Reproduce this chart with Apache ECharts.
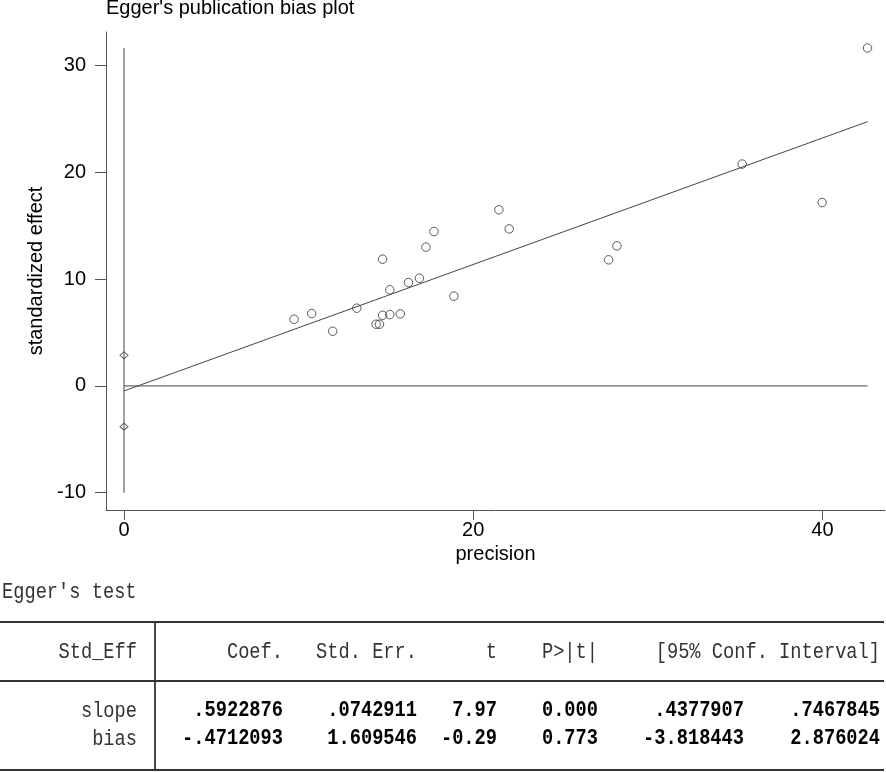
<!DOCTYPE html>
<html>
<head>
<meta charset="utf-8">
<script src="https://cdn.jsdelivr.net/npm/echarts@6/dist/echarts.min.js"></script>
<style>
html,body{margin:0;padding:0;background:#fff;}
#chart{width:886px;height:772px;}
</style>
</head>
<body>
<div id="chart"></div>
<script>
// ---- data ----
var precision = [9.74, 10.75, 11.95, 13.33, 14.44, 14.63, 14.81, 15.22, 15.82, 14.81, 15.22, 16.29, 16.92, 17.29, 17.75, 18.89, 21.47, 22.06, 27.75, 28.23, 35.4, 39.98, 42.58];
var stdEffect = [6.25, 6.78, 5.12, 7.28, 5.78, 5.78, 6.62, 6.68, 6.75, 11.87, 9.0, 9.68, 10.09, 13.0, 14.46, 8.41, 16.5, 14.71, 11.81, 13.12, 20.78, 17.18, 31.65];
var xTicks = [0, 20, 40];
var yTicks = [-10, 0, 10, 20, 30];
var verticalLine = [[0, -10], [0, 31.65]];
var zeroLine = [[0, 0], [42.58, 0]];
var fitLine = [[0, -0.4712], [42.58, 24.75]];

var tableTitle = "Egger's test";
var tableHeader = ['Std_Eff', 'Coef.', 'Std. Err.', 't', 'P>|t|', '[95% Conf. Interval]'];
var rowNames = ['slope', 'bias'];
var coef = ['.5922876', '-.4712093'];
var stdErr = ['.0742911', '1.609546'];
var tStat = ['7.97', '-0.29'];
var pValue = ['0.000', '0.773'];
var ciLow = ['.4377907', '-3.818443'];
var ciHigh = ['.7467845', '2.876024'];
var biasCI = [[0, parseFloat(ciLow[1])], [0, parseFloat(ciHigh[1])]];

// ---- chart ----
var chart = echarts.init(document.getElementById('chart'), null, {renderer: 'canvas'});
var sans = 'Liberation Sans, Arial, sans-serif';
var mono = 'Liberation Mono, Courier New, monospace';
var axisColor = '#555';
var lineColor = '#444';

var points = precision.map(function (p, i) { return [p, stdEffect[i]]; });

var graphics = [];
graphics.push({type: 'text', x: 106, y: 8, style: {text: "Egger's publication bias plot", font: '20px ' + sans, fill: '#000', align: 'left', verticalAlign: 'middle'}});

// table
var tableFont = '18.7px ' + mono;
var boldFont = 'bold 18.7px ' + mono;
var headerX = [137, 283, 417, 497, 598, 880];
var colX = [137, 283, 417, 497, 598, 744, 880];
var sy = 1.15;
graphics.push({type: 'text', x: 2, y: 592, scaleY: sy, style: {text: tableTitle, font: tableFont, fill: '#333', align: 'left', verticalAlign: 'middle'}});
[622, 681, 770].forEach(function (yy) {
  graphics.push({type: 'line', shape: {x1: 0, y1: yy, x2: 884, y2: yy}, style: {stroke: '#333', lineWidth: 1.8}});
});
graphics.push({type: 'line', shape: {x1: 155, y1: 622, x2: 155, y2: 770}, style: {stroke: '#333', lineWidth: 1.8}});
tableHeader.forEach(function (h, i) {
  graphics.push({type: 'text', x: headerX[i], y: 652, scaleY: sy, style: {text: h, font: tableFont, fill: '#333', align: 'right', verticalAlign: 'middle'}});
});
var rowY = [711, 739];
rowNames.forEach(function (name, r) {
  var cells = [name, coef[r], stdErr[r], tStat[r], pValue[r], ciLow[r], ciHigh[r]];
  cells.forEach(function (c, i) {
    graphics.push({type: 'text', x: colX[i], y: rowY[r], scaleY: sy, style: {text: c, font: i === 0 ? tableFont : boldFont, fill: i === 0 ? '#333' : '#000', align: 'right', verticalAlign: 'middle'}});
  });
});

var option = {
  animation: false,
  backgroundColor: '#fff',
  grid: {left: 106, right: 1, top: 32, bottom: 262, containLabel: false},
  xAxis: {
    type: 'value', min: -1.031, max: 43.58,
    name: 'precision', nameLocation: 'middle', nameGap: 30,
    nameTextStyle: {fontFamily: sans, fontSize: 20, color: '#000'},
    axisLine: {show: true, onZero: false, lineStyle: {color: axisColor, width: 1}},
    axisTick: {show: true, length: 10, customValues: xTicks, lineStyle: {color: axisColor}},
    axisLabel: {show: true, margin: 10, customValues: xTicks, fontFamily: sans, fontSize: 20, color: '#000'},
    splitLine: {show: false}
  },
  yAxis: {
    type: 'value', min: -11.62, max: 33.15,
    name: 'standardized effect', nameLocation: 'middle', nameGap: 60,
    nameTextStyle: {fontFamily: sans, fontSize: 20, color: '#000'},
    axisLine: {show: true, onZero: false, lineStyle: {color: axisColor, width: 1}},
    axisTick: {show: true, length: 11, customValues: yTicks, lineStyle: {color: axisColor}},
    axisLabel: {show: true, margin: 20, customValues: yTicks, fontFamily: sans, fontSize: 20, color: '#000'},
    splitLine: {show: false}
  },
  graphic: graphics,
  series: [
    {type: 'line', data: verticalLine, symbol: 'none', silent: true, lineStyle: {color: lineColor, width: 1}},
    {type: 'line', data: zeroLine, symbol: 'none', silent: true, lineStyle: {color: lineColor, width: 1}},
    {type: 'line', data: fitLine, symbol: 'none', silent: true, lineStyle: {color: lineColor, width: 1}},
    {type: 'scatter', data: points, symbol: 'circle', symbolSize: 8.5,
     itemStyle: {color: 'rgba(255,255,255,0)', borderColor: '#333', borderWidth: 1}},
    {type: 'scatter', data: biasCI, symbol: 'diamond', symbolSize: [8, 7],
     itemStyle: {color: 'rgba(255,255,255,0)', borderColor: '#333', borderWidth: 1}}
  ]
};
chart.setOption(option);
</script>
</body>
</html>
